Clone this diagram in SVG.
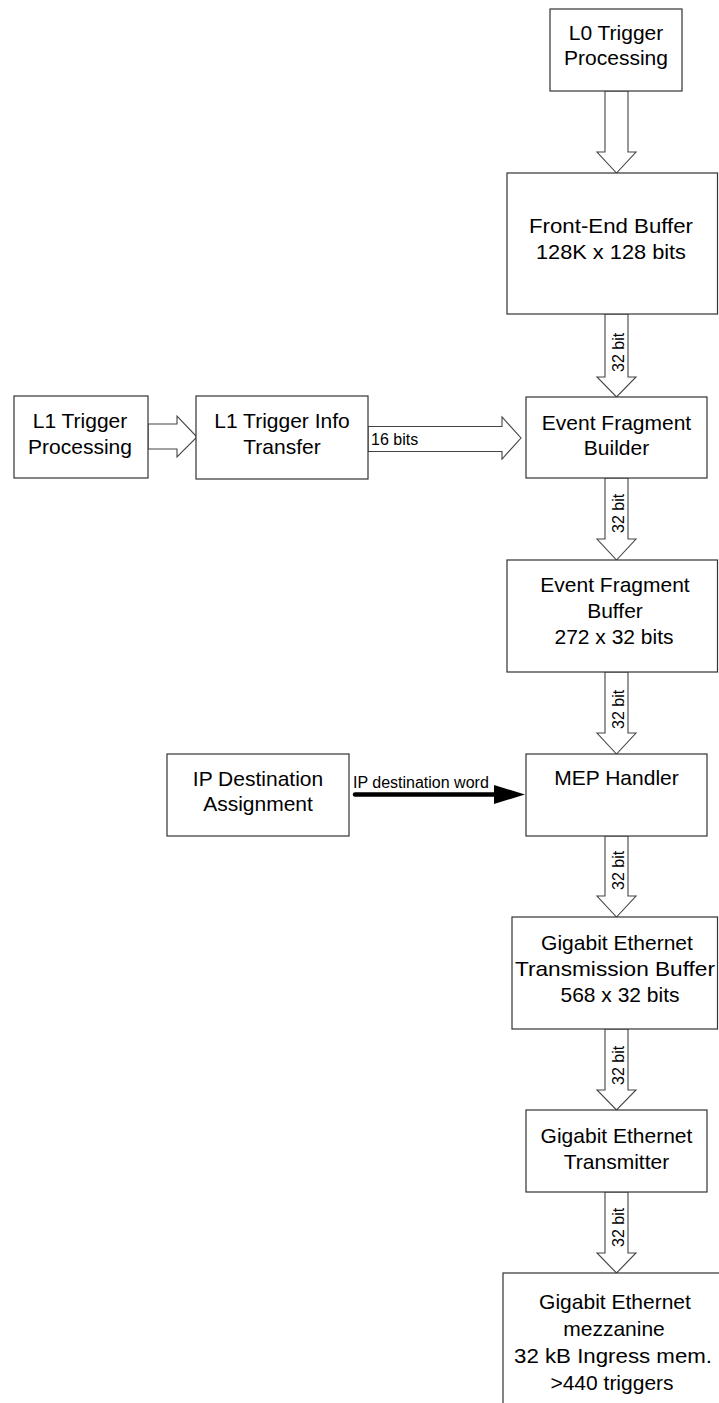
<svg xmlns="http://www.w3.org/2000/svg" width="719" height="1403" viewBox="0 0 719 1403">
  <style>
    .box { fill: #ffffff; stroke: #333333; stroke-width: 1.2; }
    .blk { fill: #ffffff; stroke: #444444; stroke-width: 1.1; stroke-linejoin: miter; }
    .t { font-family: "Liberation Sans", Arial, sans-serif; font-size: 21px; fill: #000000; text-anchor: middle; }
    .lbl { font-family: "Liberation Sans", Arial, sans-serif; font-size: 16px; fill: #000000; }
  </style>

  <rect width="719" height="1403" fill="#ffffff"/>

  <!-- connectors -->
  <g id="connectors">
    <!-- L0 -> Front-End Buffer -->
    <polygon class="blk" points="605,91 628,91 628,152 636,152 616.5,173 597,152 605,152"/>
    <!-- Front-End Buffer -> Event Fragment Builder -->
    <polygon class="blk" points="605,314 628,314 628,377 636,377 616.5,397 597,377 605,377"/>
    <text class="lbl" transform="translate(624,372) rotate(-90)">32 bit</text>
    <!-- Event Fragment Builder -> Event Fragment Buffer -->
    <polygon class="blk" points="605,478 628,478 628,539 636,539 616.5,560 597,539 605,539"/>
    <text class="lbl" transform="translate(624,533) rotate(-90)">32 bit</text>
    <!-- Event Fragment Buffer -> MEP Handler -->
    <polygon class="blk" points="605,672 628,672 628,733 636,733 616.5,754 597,733 605,733"/>
    <text class="lbl" transform="translate(624,729) rotate(-90)">32 bit</text>
    <!-- MEP Handler -> GbE Transmission Buffer -->
    <polygon class="blk" points="605,836 628,836 628,896 636,896 616.5,917 597,896 605,896"/>
    <text class="lbl" transform="translate(624,890) rotate(-90)">32 bit</text>
    <!-- GbE Transmission Buffer -> GbE Transmitter -->
    <polygon class="blk" points="605,1029 628,1029 628,1090 636,1090 616.5,1110 597,1090 605,1090"/>
    <text class="lbl" transform="translate(624,1085) rotate(-90)">32 bit</text>
    <!-- GbE Transmitter -> mezzanine -->
    <polygon class="blk" points="605,1192 628,1192 628,1253 636,1253 616.5,1273 597,1253 605,1253"/>
    <text class="lbl" transform="translate(624,1247) rotate(-90)">32 bit</text>

    <!-- L1 Trigger Processing -> L1 Trigger Info Transfer -->
    <polygon class="blk" points="148,424 177,424 177,416 197,437 177,457 177,449 148,449"/>
    <!-- L1 Trigger Info Transfer -> Event Fragment Builder -->
    <polygon class="blk" points="368,426.5 502,426.5 502,417 521,438 502,459 502,451.5 368,451.5"/>
    <text class="lbl" x="371" y="445">16 bits</text>

    <!-- IP Destination Assignment -> MEP Handler -->
    <line x1="355" y1="794.5" x2="497" y2="794.5" stroke="#000000" stroke-width="4.5" stroke-linecap="round"/>
    <polygon points="494,785 525,794.5 494,804" fill="#000000"/>
    <text class="lbl" x="353" y="788">IP destination word</text>
  </g>

  <!-- nodes -->
  <g id="l0-trigger">
    <rect class="box" x="550" y="9" width="132" height="82"/>
    <text class="t" x="616" y="40">L0 Trigger</text>
    <text class="t" x="616" y="65">Processing</text>
  </g>

  <g id="front-end-buffer">
    <rect class="box" x="507" y="173" width="210.5" height="141"/>
    <text class="t" x="611" y="233" textLength="164" lengthAdjust="spacingAndGlyphs">Front-End Buffer</text>
    <text class="t" x="611" y="259" textLength="150" lengthAdjust="spacingAndGlyphs">128K x 128 bits</text>
  </g>

  <g id="l1-trigger">
    <rect class="box" x="14" y="396" width="134" height="82"/>
    <text class="t" x="80" y="428">L1 Trigger</text>
    <text class="t" x="80" y="454" textLength="104" lengthAdjust="spacingAndGlyphs">Processing</text>
  </g>

  <g id="l1-info-transfer">
    <rect class="box" x="196" y="396" width="172" height="83"/>
    <text class="t" x="282" y="428">L1 Trigger Info</text>
    <text class="t" x="282" y="454">Transfer</text>
  </g>

  <g id="event-fragment-builder">
    <rect class="box" x="526" y="397" width="181" height="81"/>
    <text class="t" x="616.5" y="430">Event Fragment</text>
    <text class="t" x="616.5" y="455">Builder</text>
  </g>

  <g id="event-fragment-buffer">
    <rect class="box" x="507" y="560" width="210.5" height="112"/>
    <text class="t" x="615" y="592">Event Fragment</text>
    <text class="t" x="615" y="618">Buffer</text>
    <text class="t" x="614" y="644">272 x 32 bits</text>
  </g>

  <g id="ip-destination">
    <rect class="box" x="167" y="754" width="182" height="82"/>
    <text class="t" x="258" y="786">IP Destination</text>
    <text class="t" x="258" y="811">Assignment</text>
  </g>

  <g id="mep-handler">
    <rect class="box" x="526" y="754" width="181" height="82"/>
    <text class="t" x="616.5" y="785">MEP Handler</text>
  </g>

  <g id="gbe-tx-buffer">
    <rect class="box" x="512" y="917" width="205.5" height="112"/>
    <text class="t" x="617" y="950">Gigabit Ethernet</text>
    <text class="t" x="615" y="976" textLength="200" lengthAdjust="spacingAndGlyphs">Transmission Buffer</text>
    <text class="t" x="620" y="1002">568 x 32 bits</text>
  </g>

  <g id="gbe-transmitter">
    <rect class="box" x="526" y="1110" width="181" height="82"/>
    <text class="t" x="616.5" y="1143">Gigabit Ethernet</text>
    <text class="t" x="616.5" y="1169">Transmitter</text>
  </g>

  <g id="gbe-mezzanine">
    <rect class="box" x="503" y="1273" width="230" height="150"/>
    <text class="t" x="615" y="1309">Gigabit Ethernet</text>
    <text class="t" x="614" y="1336">mezzanine</text>
    <text class="t" x="613" y="1363" textLength="198" lengthAdjust="spacingAndGlyphs">32 kB Ingress mem.</text>
    <text class="t" x="612" y="1390">&gt;440 triggers</text>
  </g>
</svg>
